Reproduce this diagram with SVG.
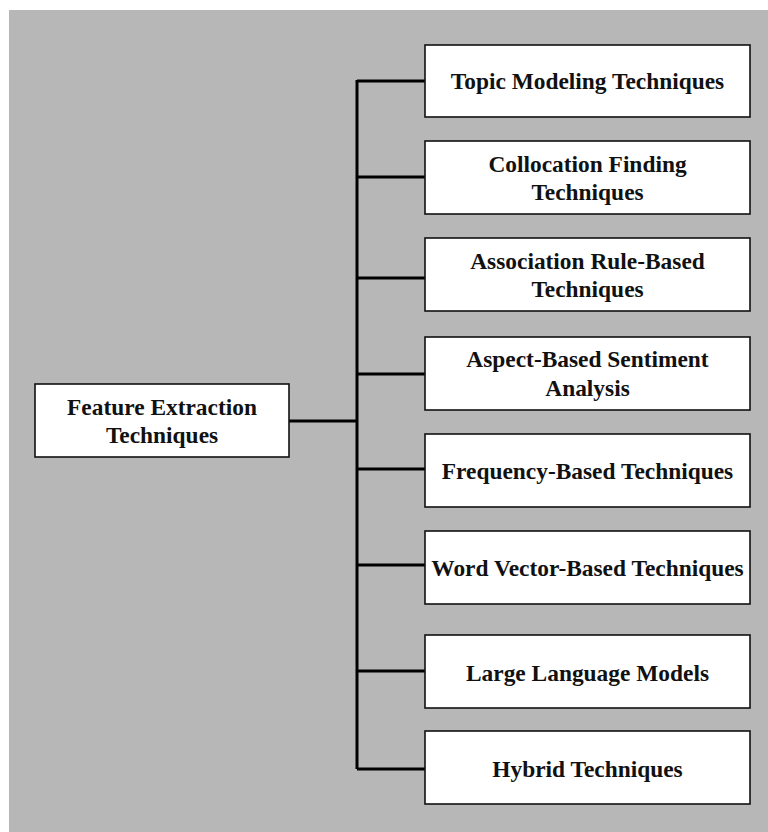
<svg xmlns="http://www.w3.org/2000/svg" width="768" height="832" viewBox="0 0 768 832">
<style>
.box{fill:#ffffff;stroke:#111111;stroke-width:1.6}
.t{font-family:"Liberation Serif","Times New Roman",serif;font-weight:bold;font-size:23.4px;fill:#111111;text-anchor:middle}
.c{stroke:#000000;stroke-width:3;fill:none}
</style>
<rect x="0" y="0" width="768" height="832" fill="#ffffff"/>
<rect x="9" y="10" width="759" height="822" fill="#b7b7b7"/>
<g id="connectors">
<path class="c" d="M289 421H357"/>
<path class="c" d="M357 80V769"/>
<path class="c" d="M357 81H425M357 177H425M357 278H425M357 374H425M357 469H425M357 565H425M357 671H425M357 769H425"/>
</g>
<g id="root"><rect class="box" x="35" y="384" width="254" height="73"/><text class="t" x="162" y="415">Feature Extraction</text><text class="t" x="162" y="443">Techniques</text></g>
<g id="n1"><rect class="box" x="425" y="45" width="325" height="72"/><text class="t" x="587.5" y="89">Topic Modeling Techniques</text></g>
<g id="n2"><rect class="box" x="425" y="141" width="325" height="73"/><text class="t" x="587.5" y="172">Collocation Finding</text><text class="t" x="587.5" y="200">Techniques</text></g>
<g id="n3"><rect class="box" x="425" y="238" width="325" height="73"/><text class="t" x="587.5" y="269">Association Rule-Based</text><text class="t" x="587.5" y="297">Techniques</text></g>
<g id="n4"><rect class="box" x="425" y="337" width="325" height="73"/><text class="t" x="587.5" y="367">Aspect-Based Sentiment</text><text class="t" x="587.5" y="396">Analysis</text></g>
<g id="n5"><rect class="box" x="425" y="434" width="325" height="73"/><text class="t" x="587.5" y="479">Frequency-Based Techniques</text></g>
<g id="n6"><rect class="box" x="425" y="531" width="325" height="73"/><text class="t" x="587.5" y="576">Word Vector-Based Techniques</text></g>
<g id="n7"><rect class="box" x="425" y="635" width="325" height="73"/><text class="t" x="587.5" y="681">Large Language Models</text></g>
<g id="n8"><rect class="box" x="425" y="731" width="325" height="73"/><text class="t" x="587.5" y="777">Hybrid Techniques</text></g>
</svg>
